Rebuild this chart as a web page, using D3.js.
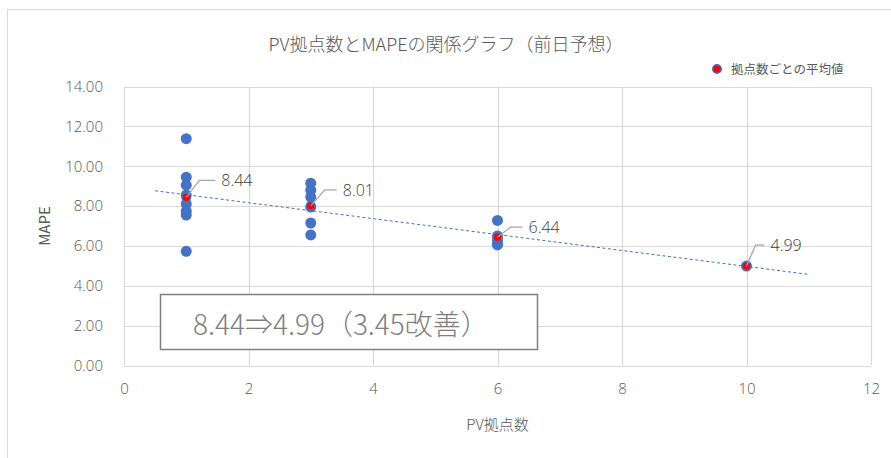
<!DOCTYPE html>
<html>
<head>
<meta charset="utf-8">
<script src="https://cdn.jsdelivr.net/npm/d3@7"></script>
<style>
  html, body { margin: 0; padding: 0; background: #fff; }
  svg { display: block; font-family: "Noto Sans CJK JP", "Noto Sans", sans-serif; }
</style>
</head>
<body>
<svg id="chart" width="891" height="458"></svg>
<script>
// Number of PV sites per group and the MAPE of each forecast in that group
const siteCounts = [1, 3, 6, 10];
const mapeBySite = [
  [11.38, 9.45, 9.05, 8.55, 8.10, 7.75, 7.55, 5.73],
  [9.15, 8.80, 8.45, 7.95, 7.15, 6.55],
  [7.28, 6.50, 6.30, 6.10, 6.05],
  [4.99]
];
// Mean MAPE per site count (labelled values)
const meanMape = [8.44, 8.01, 6.44, 4.99];

const xTicks = [0, 2, 4, 6, 8, 10, 12];
const yTicks = [0, 2, 4, 6, 8, 10, 12, 14];

const titleText = "PV拠点数とMAPEの関係グラフ（前日予想）";
const xTitle = "PV拠点数";
const yTitle = "MAPE";
const legendText = "拠点数ごとの平均値";
const noteText = "8.44⇒4.99（3.45改善）";
const trendRange = [0.5, 11];

const svg = d3.select("#chart");
const W = 891, H = 458;

const x = d3.scaleLinear().domain([0, 12]).range([124, 871]);
const y = d3.scaleLinear().domain([0, 14]).range([365.5, 86.5]);

const gridColor = "#d9d9d9";
const textColor = "#595959";
const blue = "#4472c4";
const numFont = "'Open Sans', 'Noto Sans', sans-serif";

// Chart frame
svg.append("rect")
  .attr("x", 7.5).attr("y", 9.5)
  .attr("width", W).attr("height", H)
  .attr("fill", "#fff").attr("stroke", "#d9d9d9").attr("stroke-width", 1);

// Grid lines
svg.append("g").selectAll("line").data(yTicks).join("line")
  .attr("x1", x(0)).attr("x2", x(12))
  .attr("y1", d => Math.round(y(d)) + 0.5).attr("y2", d => Math.round(y(d)) + 0.5)
  .attr("stroke", gridColor).attr("stroke-width", 1.2);
svg.append("g").selectAll("line").data(xTicks).join("line")
  .attr("x1", d => Math.round(x(d)) + 0.5).attr("x2", d => Math.round(x(d)) + 0.5)
  .attr("y1", y(0)).attr("y2", y(14))
  .attr("stroke", gridColor).attr("stroke-width", 1.2);

// Axes (tick labels only)
const yAxis = d3.axisLeft(y).tickValues(yTicks).tickFormat(d3.format(".2f")).tickSize(0).tickPadding(21);
const gy = svg.append("g").attr("transform", `translate(${x(0)},0)`).call(yAxis);
gy.select(".domain").remove();
gy.selectAll("text").attr("fill", textColor).style("font-size", "15px")
  .style("font-weight", 300).style("font-family", numFont);

const xAxis = d3.axisBottom(x).tickValues(xTicks).tickFormat(d3.format("d")).tickSize(0).tickPadding(18);
const gx = svg.append("g").attr("transform", `translate(0,${y(0)})`).call(xAxis);
gx.select(".domain").remove();
gx.selectAll("text").attr("fill", textColor).style("font-size", "15px")
  .style("font-weight", 300).style("font-family", numFont);

// Titles
svg.append("text").attr("x", 446).attr("y", 51).attr("text-anchor", "middle")
  .attr("fill", textColor).style("font-size", "18px").style("font-weight", 300).text(titleText);
svg.append("text").attr("x", x(6)).attr("y", 430).attr("text-anchor", "middle")
  .attr("fill", textColor).style("font-size", "15px").style("font-weight", 300).text(xTitle);
svg.append("text").attr("transform", `translate(50,${(y(0) + y(14)) / 2}) rotate(-90)`)
  .attr("text-anchor", "middle").attr("fill", textColor).style("font-size", "15px").text(yTitle);

// Trend line fitted to the group means
const mx = d3.mean(siteCounts), my = d3.mean(meanMape);
const sxy = d3.sum(siteCounts, (v, i) => (v - mx) * (meanMape[i] - my));
const sxx = d3.sum(siteCounts, v => (v - mx) ** 2);
const slope = sxy / sxx, intercept = my - slope * mx;
svg.append("line")
  .attr("x1", x(trendRange[0])).attr("y1", y(intercept + slope * trendRange[0]))
  .attr("x2", x(trendRange[1])).attr("y2", y(intercept + slope * trendRange[1]))
  .attr("stroke", blue).attr("stroke-width", 1).attr("stroke-dasharray", "3,2.5");

// Individual forecasts
const points = siteCounts.flatMap((c, i) => mapeBySite[i].map(v => ({ c, v })));
svg.append("g").selectAll("circle").data(points).join("circle")
  .attr("cx", d => x(d.c)).attr("cy", d => y(d.v)).attr("r", 5.5)
  .attr("fill", blue);

// Group means
const means = siteCounts.map((c, i) => ({ c, v: meanMape[i] }));
svg.append("g").selectAll("circle").data(means).join("circle")
  .attr("cx", d => x(d.c)).attr("cy", d => y(d.v)).attr("r", 4.3)
  .attr("fill", "#ff0000").attr("stroke", blue).attr("stroke-width", 1.4);

// Leader lines and value labels
const offsets = [
  { dx: 13, dy: -17, len: 16 },
  { dx: 14, dy: -16, len: 12 },
  { dx: 13, dy: -10, len: 12 },
  { dx: 9,  dy: -21, len: 9 }
];
means.forEach((d, i) => {
  const o = offsets[i];
  const px = x(d.c), py = y(d.v);
  svg.append("polyline")
    .attr("points", `${px},${py} ${px + o.dx},${py + o.dy} ${px + o.dx + o.len},${py + o.dy}`)
    .attr("fill", "none").attr("stroke", "#a6a6a6").attr("stroke-width", 1.3);
  svg.append("text")
    .attr("x", px + o.dx + o.len + 6).attr("y", py + o.dy + 6)
    .attr("fill", "#404040").style("font-size", "16px").style("font-weight", 300)
    .style("font-family", numFont)
    .text(d3.format(".2f")(d.v));
});

// Legend
svg.append("circle").attr("cx", 717).attr("cy", 69).attr("r", 4.3)
  .attr("fill", "#ff0000").attr("stroke", blue).attr("stroke-width", 1.4);
svg.append("text").attr("x", 731).attr("y", 74).attr("fill", textColor)
  .style("font-size", "12.5px").text(legendText);

// Improvement note
svg.append("rect").attr("x", 160.5).attr("y", 294.5).attr("width", 377).attr("height", 55)
  .attr("fill", "#fff").attr("stroke", "#7f7f7f").attr("stroke-width", 1.5);
svg.append("text").attr("x", 193).attr("y", 335).attr("fill", "#7f7f7f")
  .style("font-size", "28px").style("font-weight", 300).text(noteText);
</script>
</body>
</html>
